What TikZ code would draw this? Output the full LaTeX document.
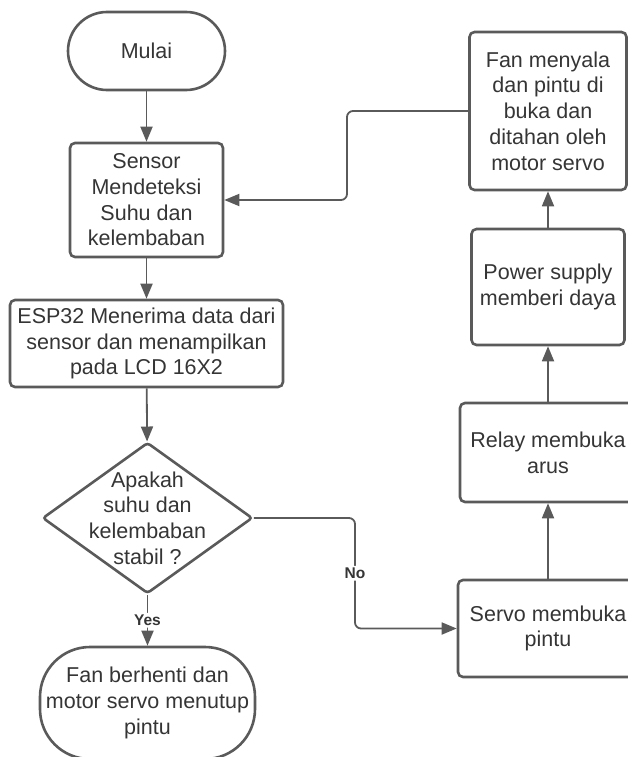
\documentclass[tikz,border=0pt]{standalone}
\usepackage{fontspec}
\setmainfont{Liberation Sans}
\usepackage{tikz}
\usetikzlibrary{
    positioning,
    shapes.geometric,
    arrows.meta
    }

\definecolor{flowline}{HTML}{5A5A5A}
\definecolor{flowtext}{HTML}{353535}

\begin{document}
\begin{tikzpicture}[x=1pt, y=-1pt]
\tikzset{every node/.style =
        {
            font=\fontsize{21.5}{25.7}\selectfont,
            text=flowtext
        }
}

\tikzset{terminal/.style =
        {
            rectangle,
            line width=2.6pt,
            draw=flowline,
            fill=white,
            inner sep=0pt,
            align=center
        }
}

\tikzset{process/.style =
        {
            rectangle,
            rounded corners=5pt,
            line width=2.6pt,
            draw=flowline,
            fill=white,
            inner sep=0pt,
            align=center
        }
}

\tikzset{decision/.style =
        {
            shape=diamond,
            rounded corners=3pt,
            line width=2.6pt,
            draw=flowline,
            fill=white,
            inner sep=0pt,
            minimum width=210pt,
            minimum height=151pt
        }
}

\tikzset{flow/.style = {
            line width=1.8pt,
            draw=flowline,
            rounded corners=6pt,
            -{Triangle[length=15pt, width=12pt]}
        }
}

\tikzset{answer/.style = {
            font=\fontsize{15.5}{18}\selectfont\bfseries,
            fill=white,
            inner sep=2pt
        }
}
		\useasboundingbox (0,0) rectangle (628,757);

		\node[terminal, rounded corners=39pt, minimum width=157pt, minimum height=78pt] (mulai) at (146.5,51) {Mulai};
		\node[process, minimum width=153pt, minimum height=114pt] (sensor) at (146.5,200) {Sensor\\Mendeteksi\\Suhu dan\\kelembaban};
		\node[process, minimum width=273pt, minimum height=87pt] (esp) at (146.5,343.5) {ESP32 Menerima data dari\\sensor dan menampilkan\\pada LCD 16X2};

		\node[decision] (stabil) at (147.5,518) {};
		\node[align=center] (stabil-text) at (stabil.center) {Apakah\\suhu dan\\kelembaban\\stabil ?};

		\node[terminal, rounded corners=50pt, minimum width=215pt, minimum height=112pt] (selesai) at (147.5,703) {Fan berhenti dan\\motor servo menutup\\pintu};

		\node[process, minimum width=180pt, minimum height=97pt] (servo) at (548,628.5) {Servo membuka\\pintu};
		\node[process, minimum width=176pt, minimum height=99pt] (relay) at (548,452.5) {Relay membuka\\arus};
		\node[process, minimum width=153pt, minimum height=116pt] (power) at (548,287) {Power supply\\memberi daya};
		\node[process, minimum width=157pt, minimum height=158pt] (fan) at (548,111) {Fan menyala\\dan pintu di\\buka dan\\ditahan oleh\\motor servo};

		\coordinate (no-bend) at (355,628.5);
		\coordinate (fan-bend) at (347,200);

		\draw[flow] (mulai) -- (sensor);
		\draw[flow] (sensor) -- (esp);
		\draw[flow] (esp) -- (stabil);
		\draw[flow] (stabil) -- node[answer] (yes) {Yes} (selesai);
		\draw[flow] (stabil.east) -| node[answer, pos=0.75] (no) {No} (no-bend) -- (servo.west);
		\draw[flow] (servo) -- (relay);
		\draw[flow] (relay) -- (power);
		\draw[flow] (power) -- (fan);
		\draw[flow] (fan.west) -| (fan-bend) -- (sensor.east);

	\end{tikzpicture}
\end{document}
